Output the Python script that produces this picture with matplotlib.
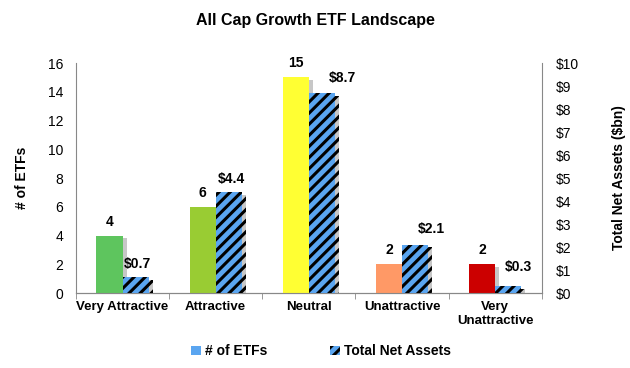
import matplotlib
matplotlib.use("Agg")
import matplotlib.pyplot as plt
import matplotlib.patheffects as pe
from matplotlib.patches import Patch
import numpy as np

plt.rcParams['font.family'] = ['Liberation Sans', 'DejaVu Sans']
plt.rcParams['hatch.linewidth'] = 2.2

categories = ["Very Attractive", "Attractive", "Neutral", "Unattractive", "Very\nUnattractive"]
num_etfs = [4, 6, 15, 2, 2]
net_assets = [0.7, 4.4, 8.7, 2.1, 0.3]
etf_labels = ["4", "6", "15", "2", "2"]
asset_labels = ["$0.7", "$4.4", "$8.7", "$2.1", "$0.3"]
bar_colors = ["#5ec55e", "#99cc33", "#ffff33", "#ff9966", "#cc0000"]
left_ticks = [0, 2, 4, 6, 8, 10, 12, 14, 16]
right_ticks = [0, 1, 2, 3, 4, 5, 6, 7, 8, 9, 10]
# label offsets (points) as placed in the reference
asset_label_dx = [1, 2, 15, 12, 7]
asset_label_dy = [4, 4, 6, 6, 9]

fig = plt.figure(figsize=(6.3, 3.68), dpi=100)
ax = fig.add_axes([0.1206, 0.2038, 0.7394, 0.625])
ax2 = ax.twinx()

x = np.arange(len(categories))
w = 0.28
shadow = [pe.SimplePatchShadow(offset=(3, -2), shadow_rgbFace='#999999', alpha=0.55), pe.Normal()]

bars1 = ax.bar(x - w / 2, num_etfs, width=w, color=bar_colors, linewidth=0, zorder=3)
for b in bars1:
    b.set_path_effects(shadow)
bars2 = ax2.bar(x + w / 2, net_assets, width=w, facecolor="#5aa5f0", edgecolor="black",
                hatch="///", linewidth=0, zorder=3)
for b in bars2:
    b.set_path_effects(shadow)

for xi, v, t in zip(x, num_etfs, etf_labels):
    ax.annotate(t, (xi - w / 2, v), xytext=(0, 5), textcoords="offset points",
                ha="center", va="bottom", fontsize=10, fontweight="bold")
for xi, v, t, dx, dy in zip(x, net_assets, asset_labels, asset_label_dx, asset_label_dy):
    ax2.annotate(t, (xi + w / 2, v), xytext=(dx, dy), textcoords="offset points",
                 ha="center", va="bottom", fontsize=10, fontweight="bold")

ax.set_xlim(-0.5, len(categories) - 0.5)
ax.set_ylim(0, 16)
ax2.set_ylim(0, 10)
ax.set_yticks(left_ticks)
ax.set_yticklabels([str(t) for t in left_ticks], fontsize=10)
ax2.set_yticks(right_ticks)
ax2.set_yticklabels(["$" + str(t) for t in right_ticks], fontsize=10)

ax.set_xticks(x)
ax.set_xticklabels(categories, fontsize=9.5, fontweight="bold")
ax.tick_params(axis="x", length=0, pad=6)
ax.set_xticks(np.arange(-0.5, len(categories) + 0.5, 1), minor=True)
ax.tick_params(axis="x", which="minor", length=4, color="#888888")
ax.tick_params(axis="y", length=0, pad=9)
ax2.tick_params(axis="y", length=0, pad=10)

for a in (ax, ax2):
    a.spines["top"].set_visible(False)
    a.spines["left"].set_color("#888888")
    a.spines["right"].set_color("#888888")
    a.spines["bottom"].set_color("#888888")
ax.spines["right"].set_visible(False)
ax2.spines["left"].set_visible(False)

ax.set_ylabel("# of ETFs", fontsize=10, fontweight="bold", labelpad=14)
ax2.set_ylabel("Total Net Assets ($bn)", fontsize=10, fontweight="bold", labelpad=24)

fig.suptitle("All Cap Growth ETF Landscape", fontsize=11.5, fontweight="bold", y=0.965)

handles = [Patch(facecolor="#5aa5f0", linewidth=0),
           Patch(facecolor="#5aa5f0", edgecolor="black", hatch="///", linewidth=0)]
fig.legend(handles, ["# of ETFs", "Total Net Assets"], loc="center", bbox_to_anchor=(0.51, 0.045),
           ncol=2, frameon=False, prop={"size": 10, "weight": "bold"}, handlelength=0.7,
           handleheight=0.7, handletextpad=0.3, columnspacing=4.5)

fig.savefig("out.png", dpi=100)
